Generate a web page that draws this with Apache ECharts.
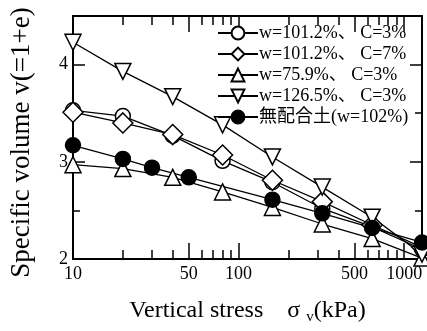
<!DOCTYPE html>
<html lang="ja">
<head>
	<meta charset="UTF-8">
	<title>Specific volume - vertical stress</title>
	<script src="https://cdn.jsdelivr.net/npm/echarts@6.0.0/dist/echarts.min.js"></script>
</head>
<body style="margin:0;">
	<div id="main" style="width: 427px;height:331px;"></div>
	<script type="text/javascript">
		// 圧密試験の載荷段階 (kPa)
		var sigmaTest = [10, 20, 40, 80, 160, 320, 640, 1280];
		var sigmaBase = [10, 20, 30, 50, 160, 320, 640, 1280];

		// 比体積 v = 1+e
		var vW101C3 = [3.53, 3.47, 3.27, 3.01, 2.79, 2.52, 2.33, 2.10];
		var vW101C7 = [3.51, 3.40, 3.28, 3.07, 2.81, 2.59, 2.35, 2.12];
		var vW76C3 = [2.97, 2.93, 2.84, 2.69, 2.53, 2.36, 2.21, 2.01];
		var vW127C3 = [4.23, 3.93, 3.67, 3.38, 3.05, 2.74, 2.43, 2.05];
		var vBase = [3.17, 3.03, 2.94, 2.84, 2.61, 2.47, 2.32, 2.17];

		var seriesNames = ['w=101.2%、 C=3%', 'w=101.2%、 C=7%', 'w=75.9%、 C=3%', 'w=126.5%、 C=3%', '無配合土(w=102%)'];

		// 目盛り
		var xMajorTicks = [10, 50, 100, 500, 1000];
		var xMinorTicks = [20, 30, 40, 60, 70, 80, 90, 200, 300, 400, 600, 700, 800, 900];
		var yMajorTicks = [2, 3, 4];
		var yMinorTicks = [2.5, 3.5];

		var serif = "'Liberation Serif', 'Noto Sans CJK JP', serif";

		function pairs(xs, ys) {
			var out = [];
			for (var i = 0; i < xs.length; i++) {
				out.push([xs[i], ys[i]]);
			}
			return out;
		}

		function xAxisDef(pos, ticks, len, showLabel) {
			return {
				type: 'log',
				logBase: 10,
				min: 10,
				max: 1280,
				position: pos,
				axisLine: { show: true, lineStyle: { color: '#000', width: 2 } },
				axisTick: { show: true, inside: true, length: len, customValues: ticks, lineStyle: { color: '#000', width: 1.5 } },
				axisLabel: showLabel ? {
					show: true, customValues: xMajorTicks, color: '#000', fontSize: 18, fontFamily: serif, margin: 6,
					formatter: function (v) { return String(Math.round(v)); }
				} : { show: false },
				splitLine: { show: false }
			};
		}

		function yAxisDef(pos, ticks, len, showLabel) {
			return {
				type: 'value',
				min: 2,
				max: 4.5,
				position: pos,
				axisLine: { show: true, lineStyle: { color: '#000', width: 2 } },
				axisTick: { show: true, inside: true, length: len, customValues: ticks, lineStyle: { color: '#000', width: 1.5 } },
				axisLabel: showLabel ? {
					show: true, customValues: yMajorTicks, color: '#000', fontSize: 18, fontFamily: serif, margin: 5
				} : { show: false },
				splitLine: { show: false }
			};
		}

		function lineSeries(name, data, symbol, rotate, fill, size) {
			return {
				name: name,
				type: 'line',
				data: data,
				symbol: symbol,
				symbolSize: size,
				symbolRotate: rotate,
				showAllSymbol: true,
				lineStyle: { color: '#000', width: 1.3 },
				itemStyle: { color: fill, borderColor: '#000', borderWidth: 1.5 },
				emphasis: { disabled: true }
			};
		}

		var myChart = echarts.init(document.getElementById('main'));

		var xBottom = xAxisDef('bottom', xMajorTicks, 16, true);
		xBottom.name = 'Vertical stress    σ {sub|v}(kPa)';
		xBottom.nameLocation = 'middle';
		xBottom.nameGap = 37;
		xBottom.nameTextStyle = {
			color: '#000', fontSize: 24, fontFamily: serif,
			rich: { sub: { fontSize: 15, fontFamily: serif, color: '#000', verticalAlign: 'bottom', padding: [14, 0, 0, 0] } }
		};

		var yLeft = yAxisDef('left', yMajorTicks, 12, true);
		yLeft.name = 'Specific volume v(=1+e)';
		yLeft.nameLocation = 'middle';
		yLeft.nameGap = 38;
		yLeft.nameTextStyle = { color: '#000', fontSize: 27, fontFamily: serif, padding: [0, 10, 0, 0] };

		var option = {
			animation: false,
			backgroundColor: '#fff',
			grid: { left: 68, right: 5, top: 16, bottom: 72, containLabel: false },
			legend: {
				orient: 'vertical',
				left: 217,
				top: 24,
				padding: 0,
				itemWidth: 40,
				itemHeight: 16,
				itemGap: 3,
				selectedMode: false,
				textStyle: { color: '#000', fontSize: 18, fontFamily: serif, lineHeight: 17, padding: [0, 0, 0, -4] },
				data: seriesNames
			},
			xAxis: [
				xBottom,
				xAxisDef('bottom', xMinorTicks, 9, false),
				xAxisDef('top', xMajorTicks, 16, false),
				xAxisDef('top', xMinorTicks, 9, false)
			],
			yAxis: [
				yLeft,
				yAxisDef('left', yMinorTicks, 7, false),
				yAxisDef('right', yMajorTicks, 12, false),
				yAxisDef('right', yMinorTicks, 7, false)
			],
			series: [
				lineSeries(seriesNames[0], pairs(sigmaTest, vW101C3), 'circle', 0, '#fff', 15),
				lineSeries(seriesNames[1], pairs(sigmaTest, vW101C7), 'diamond', 0, '#fff', 20),
				lineSeries(seriesNames[2], pairs(sigmaTest, vW76C3), 'triangle', 0, '#fff', 16),
				lineSeries(seriesNames[3], pairs(sigmaTest, vW127C3), 'triangle', 180, '#fff', 16),
				lineSeries(seriesNames[4], pairs(sigmaBase, vBase), 'circle', 0, '#000', 15)
			]
		};

		myChart.setOption(option);
	</script>
</body>
</html>
